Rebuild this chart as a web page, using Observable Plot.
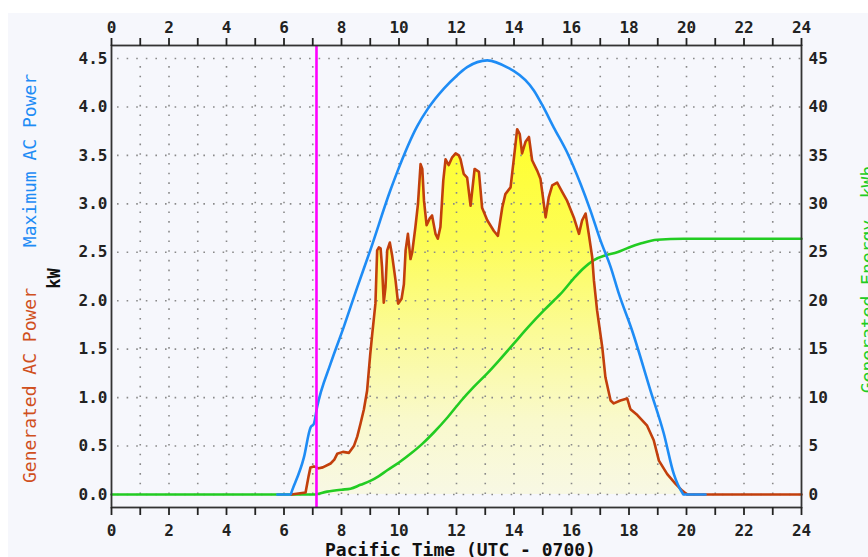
<!DOCTYPE html>
<html>
<head>
<meta charset="utf-8">
<script src="https://cdn.jsdelivr.net/npm/d3@7"></script>
<script src="https://cdn.jsdelivr.net/npm/@observablehq/plot@0.6"></script>
<style>
  html, body { margin: 0; padding: 0; background: #ffffff; }
  #chart { position: absolute; left: 8px; top: 13px; }
  #chart svg { display: block; }
</style>
</head>
<body>
<div id="chart"></div>
<script>
// Generated AC power (kW) through the day
const genHour = [6.25, 6.75, 6.85, 6.92, 7.04, 7.21, 7.35, 7.62, 7.75, 7.85, 8.05, 8.26, 8.43, 8.55, 8.66, 8.78, 8.89,
  9.0, 9.07, 9.12, 9.18, 9.24, 9.30, 9.36, 9.41, 9.47, 9.53, 9.59, 9.68, 9.76, 9.88, 9.97, 10.09, 10.17, 10.23, 10.31,
  10.40, 10.46, 10.57, 10.66, 10.75, 10.81, 10.87, 10.96, 11.07, 11.15, 11.27, 11.35, 11.44, 11.54, 11.62, 11.73, 11.85,
  11.97, 12.08, 12.14, 12.25, 12.37, 12.49, 12.63, 12.78, 12.89, 13.07, 13.30, 13.44, 13.59, 13.70, 13.88, 14.00, 14.11,
  14.20, 14.28, 14.40, 14.52, 14.63, 14.81, 14.92, 15.10, 15.21, 15.33, 15.50, 15.68, 15.85, 16.08, 16.26, 16.37, 16.49,
  16.60, 16.72, 16.78, 16.89, 17.07, 17.18, 17.36, 17.47, 17.70, 17.94, 18.05, 18.29, 18.63, 18.86, 19.04, 19.33, 19.62,
  19.85, 20.02, 24];
const genKW = [0, 0.02, 0.18, 0.28, 0.29, 0.27, 0.28, 0.32, 0.36, 0.42, 0.44, 0.43, 0.50, 0.60, 0.73, 0.88, 1.07,
  1.45, 1.66, 1.80, 1.97, 2.52, 2.55, 2.54, 2.35, 1.98, 2.14, 2.52, 2.60, 2.47, 2.21, 1.97, 2.02, 2.17, 2.52, 2.69,
  2.43, 2.50, 2.76, 3.00, 3.41, 3.36, 3.03, 2.78, 2.85, 2.88, 2.69, 2.64, 2.76, 3.24, 3.46, 3.40, 3.48,
  3.52, 3.50, 3.46, 3.31, 3.27, 2.98, 3.36, 3.33, 2.96, 2.83, 2.72, 2.67, 2.96, 3.10, 3.17, 3.48, 3.77,
  3.72, 3.52, 3.64, 3.69, 3.45, 3.34, 3.26, 2.86, 3.07, 3.19, 3.22, 3.12, 3.03, 2.86, 2.69, 2.83, 2.90,
  2.69, 2.45, 2.21, 1.90, 1.52, 1.21, 0.97, 0.94, 0.97, 0.99, 0.88, 0.82, 0.71, 0.56, 0.35, 0.21, 0.11,
  0.04, 0, 0];

// Maximum (clear-sky) AC power (kW)
const maxHour = [5.77, 6.23, 6.28, 6.69, 6.92, 7.04, 7.15, 7.62, 8.08, 8.55, 9.0, 9.70, 9.94, 10.63, 11.0, 11.56,
  12.0, 12.37, 13.07, 13.88, 14.0, 14.69, 15.0, 15.38, 15.85, 16.31, 16.66, 17.01, 17.36, 17.65, 18.11, 18.75,
  19.21, 19.56, 19.85, 19.9, 20.66];
const maxKW = [0, 0, 0.04, 0.38, 0.69, 0.73, 0.90, 1.35, 1.73, 2.14, 2.52, 3.14, 3.33, 3.80, 3.98, 4.19,
  4.32, 4.41, 4.48, 4.39, 4.37, 4.17, 4.01, 3.79, 3.53, 3.21, 2.93, 2.62, 2.35, 2.07, 1.69, 1.07,
  0.63, 0.21, 0.02, 0, 0];

// Cumulative generated energy (kWh)
const energyHour = [0, 7.0, 7.5, 8.0, 8.31, 8.66, 9.0, 9.3, 9.59, 10.0, 10.4, 10.8, 11.21, 11.7, 12.14, 12.6, 13.07,
  13.5, 14.0, 14.5, 15.04, 15.38, 15.62, 16.08, 16.4, 16.78, 17.2, 17.59, 18.0, 18.4, 18.98, 19.9, 24];
const energyKWh = [0, 0, 0.3, 0.5, 0.6, 1.0, 1.4, 1.9, 2.5, 3.3, 4.2, 5.2, 6.4, 8.0, 9.6, 11.1, 12.5,
  13.9, 15.6, 17.3, 19.0, 20.0, 20.7, 22.3, 23.3, 24.2, 24.7, 25.0, 25.5, 25.9, 26.3, 26.4, 26.4];

// Current time marker (hours)
const nowHour = [7.13];

// Axis ticks and labels
const hourTicks = d3.range(0, 25, 1);
const hourLabels = [0, 2, 4, 6, 8, 10, 12, 14, 16, 18, 20, 22, 24];
const kwTicks = [0, 0.5, 1.0, 1.5, 2.0, 2.5, 3.0, 3.5, 4.0, 4.5];
const kwhTicks = [0, 5, 10, 15, 20, 25, 30, 35, 40, 45];
const gridHours = d3.range(1, 24, 1);

const xTitle = "Pacific Time (UTC - 0700)";
const maxTitle = "Maximum AC Power";
const genTitle = "Generated AC Power";
const unitLeft = "kW";
const energyTitle = "Generated Energy  kWh";

const generated = genHour.map((h, i) => ({hour: h, kw: genKW[i]}));
const maximum = maxHour.map((h, i) => ({hour: h, kw: maxKW[i]}));
const energy = energyHour.map((h, i) => ({hour: h, kw: energyKWh[i] / 10}));

const mono = "'DejaVu Sans Mono', 'Liberation Mono', monospace";

const chart = Plot.plot({
  width: 860,
  height: 544,
  marginLeft: 103,
  marginRight: 67,
  marginTop: 32,
  marginBottom: 50,
  style: {background: "#f6f7fc", fontFamily: mono, fontSize: "16px", fontWeight: "bold", color: "#222"},
  x: {domain: [0, 24]},
  y: {domain: [-0.134, 4.634]},
  marks: [
    Plot.areaY(generated, {x: "hour", y: "kw", fill: "url(#genFill)"}),
    // dotted grid
    Plot.ruleY(kwTicks, {stroke: "#8a8a8a", strokeWidth: 1.6, strokeDasharray: "1.6 8.0", strokeDashoffset: -6}),
    Plot.ruleX(gridHours, {y1: 0, y2: 4.5, stroke: "#8a8a8a", strokeWidth: 1.6, strokeDasharray: "1.6 8.09"}),
    Plot.line(energy, {x: "hour", y: "kw", stroke: "#22cc22", strokeWidth: 2.6, curve: "monotone-x"}),
    Plot.line(generated, {x: "hour", y: "kw", stroke: "#c23f0c", strokeWidth: 2.6}),
    Plot.line(maximum, {x: "hour", y: "kw", stroke: "#1e8cf5", strokeWidth: 2.6, curve: "monotone-x"}),
    Plot.ruleX(nowHour, {stroke: "#ff00ff", strokeWidth: 2.6}),
    Plot.frame({stroke: "#333", strokeWidth: 1.8}),
    Plot.axisX({anchor: "top", ticks: hourTicks, tickFormat: d => hourLabels.includes(d) ? d : "",
      tickSize: 8, tickPadding: 5, strokeWidth: 1.8, label: null}),
    Plot.axisX({anchor: "bottom", ticks: hourTicks, tickFormat: d => hourLabels.includes(d) ? d : "",
      tickSize: 8, tickPadding: 9, strokeWidth: 1.8, label: null}),
    Plot.axisY({anchor: "left", ticks: kwTicks, tickFormat: d3.format(".1f"), tickSize: 0, tickPadding: 4, label: null}),
    Plot.axisY({anchor: "right", ticks: kwhTicks.map(d => d / 10), tickFormat: d => Math.round(d * 10),
      tickSize: 0, tickPadding: 7, label: null}),
    // axis titles
    Plot.text([maxTitle], {frameAnchor: "left", textAnchor: "middle", rotate: -90, dx: -81, dy: -116,
      fill: "#1e8cf5", fontSize: 18, fontWeight: "normal"}),
    Plot.text([genTitle], {frameAnchor: "left", textAnchor: "middle", rotate: -90, dx: -81, dy: 109,
      fill: "#d0501e", fontSize: 18, fontWeight: "normal"}),
    Plot.text([unitLeft], {frameAnchor: "left", textAnchor: "middle", rotate: -90, dx: -57, dy: 2,
      fill: "#111", fontSize: 17, fontWeight: "bold"}),
    Plot.text([energyTitle], {frameAnchor: "right", textAnchor: "middle", rotate: -90, dx: 67, dy: 3,
      fill: "#22cc22", fontSize: 18, fontWeight: "normal"}),
    Plot.text([xTitle], {frameAnchor: "bottom", textAnchor: "middle", dx: 4, dy: 48,
      fill: "#111", fontSize: 18, fontWeight: "bold"})
  ]
});

// vertical yellow gradient for the generated-power fill
d3.select(chart).insert("defs", ":first-child").html(`
  <linearGradient id="genFill" x1="0" y1="0" x2="0" y2="1">
    <stop offset="0" stop-color="#ffff2a"/>
    <stop offset="0.3" stop-color="#fdfd55"/>
    <stop offset="0.55" stop-color="#fbfb95"/>
    <stop offset="0.8" stop-color="#f9f9cc"/>
    <stop offset="1" stop-color="#f8f8e4"/>
  </linearGradient>`);

document.getElementById("chart").appendChild(chart);
</script>
</body>
</html>
